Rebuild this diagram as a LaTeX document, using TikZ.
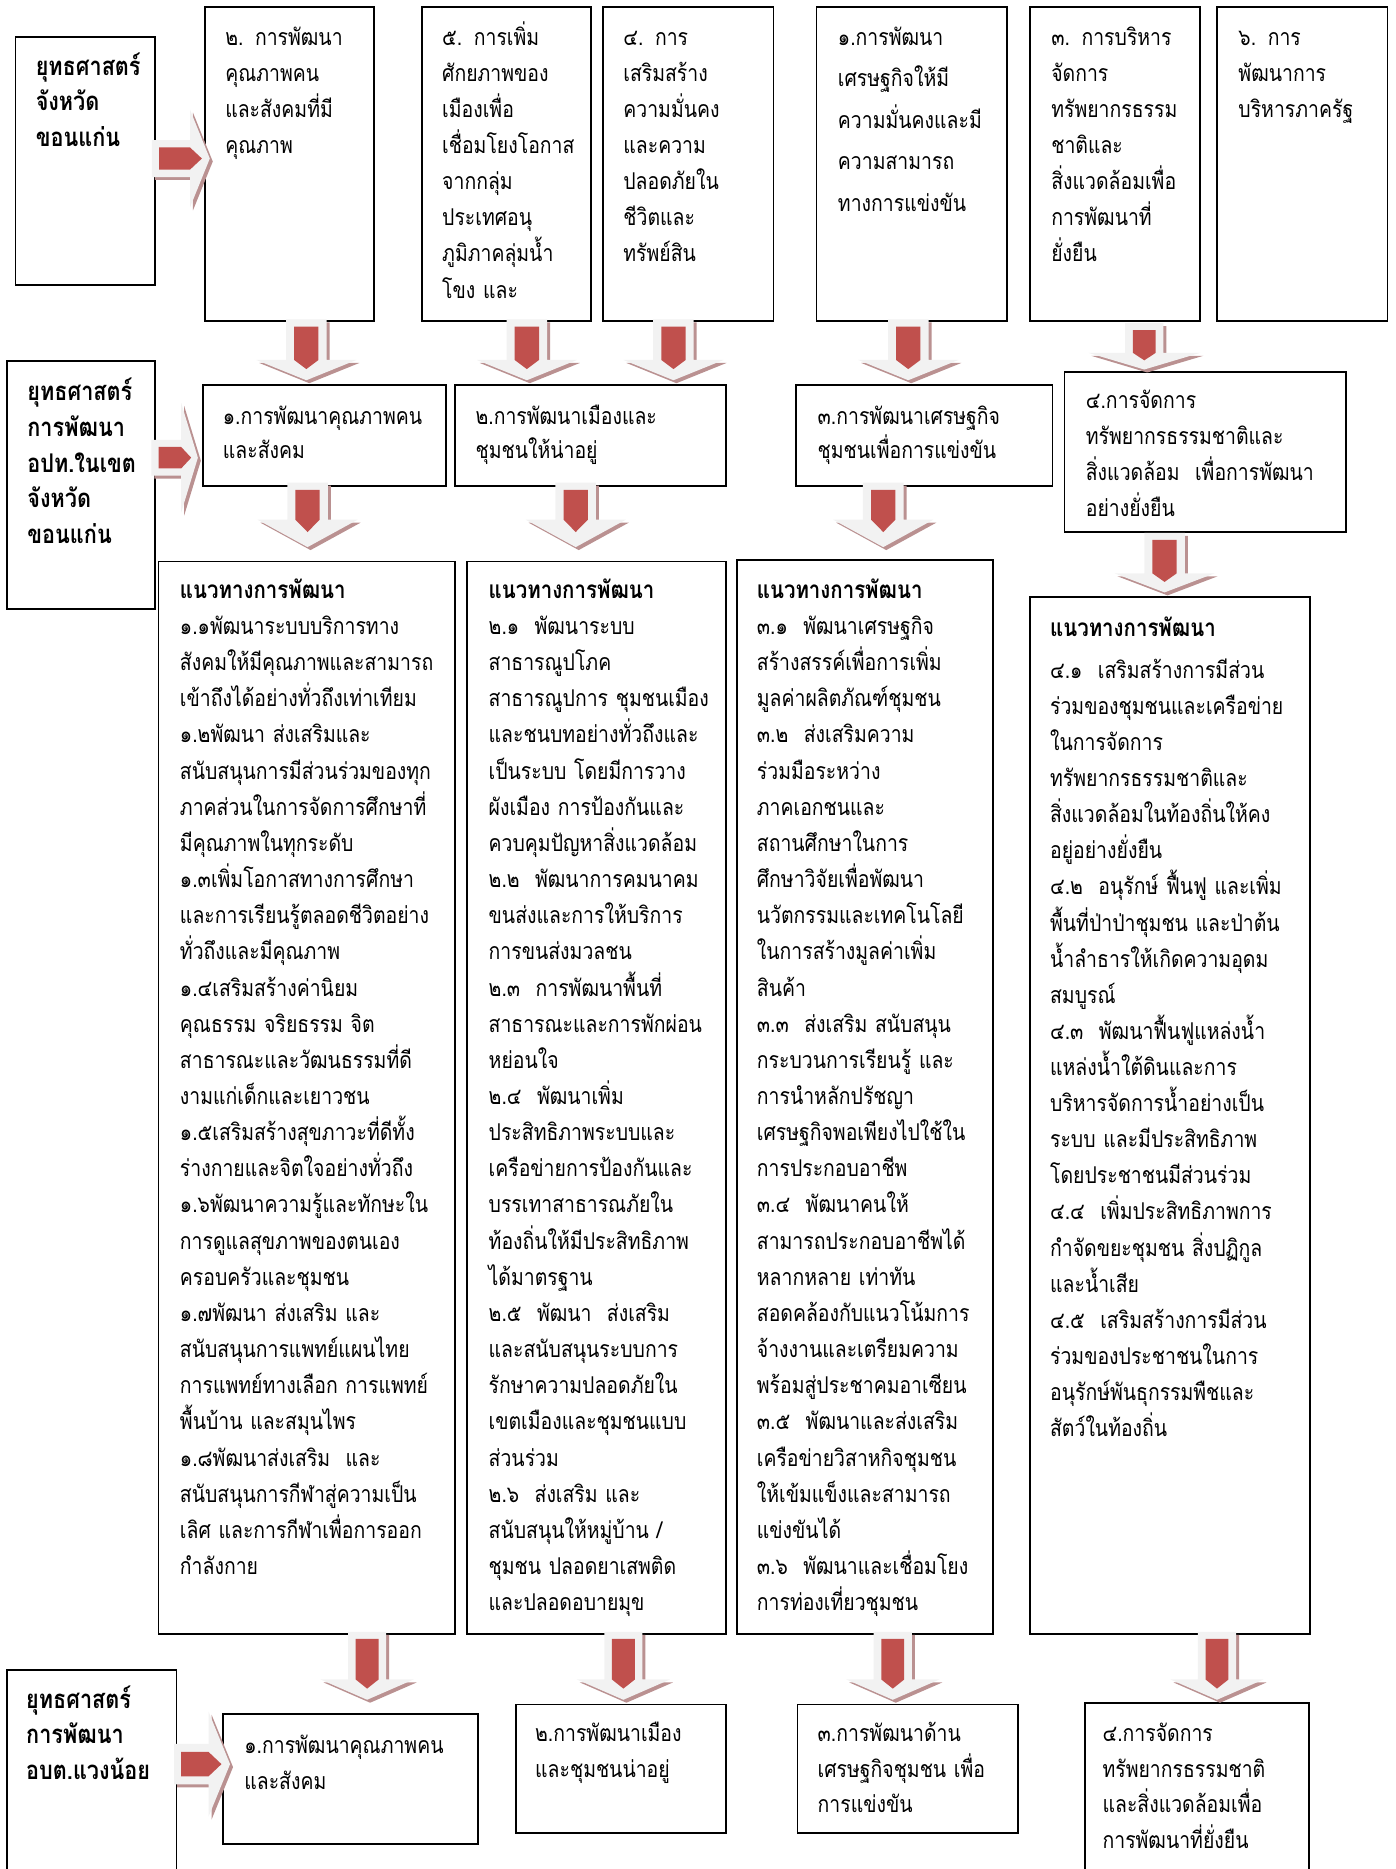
\documentclass[tikz,border=0pt]{standalone}
\usepackage{fontspec}
\newfontfamily\thaifont[Script=Thai,FakeStretch=0.84]{Loma}
\definecolor{arred}{RGB}{192,80,77}
\definecolor{argray}{RGB}{242,242,242}
\definecolor{arshad}{RGB}{186,145,145}
\newcommand\fsz{19.4pt}
\newcommand\lbf{\fontsize{21.6pt}{30pt}\selectfont\bfseries}
\newcommand\ttl[1]{{\fontsize{20.4pt}{30.33pt}\selectfont\bfseries #1}}
% down arrow: cx, top, headstart, tip, shafthalf, headhalf
\newcommand\darr[6]{%
  \fill[arshad,shift={(2.5,2.5)}] ({#1-#5},#2) -- ({#1+#5},#2) -- ({#1+#5},#3) -- ({#1+#6},#3) -- (#1,#4) -- ({#1-#6},#3) -- ({#1-#5},#3) -- cycle;
  \fill[argray] ({#1-#5},#2) -- ({#1+#5},#2) -- ({#1+#5},#3) -- ({#1+#6},#3) -- (#1,#4) -- ({#1-#6},#3) -- ({#1-#5},#3) -- cycle;
  \fill[arred] ({#1-0.6*#5},{#2+6}) -- ({#1+0.6*#5},{#2+6}) -- ({#1+0.6*#5},#3) -- (#1,{#3+0.45*(#4-#3)}) -- ({#1-0.6*#5},#3) -- cycle;
}
% right arrow: cy, left, headstart, tip, shafthalf, headhalf
\newcommand\rarr[6]{%
  \fill[arshad,shift={(2.5,2.5)}] (#2,{#1-#5}) -- (#3,{#1-#5}) -- (#3,{#1-#6}) -- (#4,#1) -- (#3,{#1+#6}) -- (#3,{#1+#5}) -- (#2,{#1+#5}) -- cycle;
  \fill[argray] (#2,{#1-#5}) -- (#3,{#1-#5}) -- (#3,{#1-#6}) -- (#4,#1) -- (#3,{#1+#6}) -- (#3,{#1+#5}) -- (#2,{#1+#5}) -- cycle;
  \fill[arred] ({#2+6},{#1-0.6*#5}) -- (#3,{#1-0.6*#5}) -- ({#3+0.6*(#4-#3)},#1) -- (#3,{#1+0.6*#5}) -- ({#2+6},{#1+0.6*#5}) -- cycle;
}
% box: name, x1, y1, x2, y2
\newcommand\bx[5]{\node[boxst, minimum width={#4-#2}, minimum height={#5-#3}] (#1) at (#2,#3) {};}
\tikzset{
  boxst/.style={draw=black, line width=1.5pt, fill=white, anchor=north west, inner sep=0pt, outer sep=0pt},
  tx/.style={anchor=base west, align=left, text width=400pt, inner sep=0pt, outer sep=0pt,
     font={\thaifont\fontsize{\fsz}{#1}\selectfont\lineskiplimit=-100pt}},
  tx/.default=30.3pt,
}
\begin{document}
\begin{tikzpicture}[x=1pt,y=-1pt]
\useasboundingbox (0,0) rectangle (1171,1568);
\clip (0,0) rectangle (1171,1568);
% ---------- row 1
\bx{L1}{13}{31}{130}{239}
\bx{t2}{172}{6}{314}{269}
\bx{t5}{354}{6}{496}{269}
\bx{t4}{506}{6}{649}{269}
\bx{t1}{685}{6}{845}{269}
\bx{t3}{864}{6}{1007}{269}
\bx{t6}{1021}{6}{1164}{269}
\node[tx=30pt] (L1t) at (30,63) {\lbf ยุทธศาสตร์\\จังหวัด\\ขอนแก่น};
\node[tx] (t2t) at (189,38) {๒. การพัฒนา\\คุณภาพคน\\และสังคมที่มี\\คุณภาพ};
\node[tx] (t5t) at (371,38) {๕. การเพิ่ม\\ศักยภาพของ\\เมืองเพื่อ\\เชื่อมโยงโอกาส\\จากกลุ่ม\\ประเทศอนุ\\ภูมิภาคลุ่มน้ำ\\โขง และ};
\node[tx] (t4t) at (523,38) {๔. การ\\เสริมสร้าง\\ความมั่นคง\\และความ\\ปลอดภัยใน\\ชีวิตและ\\ทรัพย์สิน};
\node[tx=34.8pt] (t1t) at (703,38) {๑.การพัฒนา\\เศรษฐกิจให้มี\\ความมั่นคงและมี\\ความสามารถ\\ทางการแข่งขัน};
\node[tx] (t3t) at (882,38) {๓. การบริหาร\\จัดการ\\ทรัพยากรธรรม\\ชาติและ\\สิ่งแวดล้อมเพื่อ\\การพัฒนาที่\\ยั่งยืน};
\node[tx] (t6t) at (1039,38) {๖. การ\\พัฒนาการ\\บริหารภาครัฐ};
% ---------- row 2
\bx{L2}{6}{303}{130}{511}
\bx{m1}{170}{323}{374}{408}
\bx{m2}{382}{323}{609}{408}
\bx{m3}{668}{323}{883}{408}
\bx{m4}{893}{312}{1129}{446}
\node[tx=30pt] (L2t) at (23,336) {\lbf ยุทธศาสตร์\\การพัฒนา\\อปท.ในเขต\\จังหวัด\\ขอนแก่น};
\node[tx=29pt] (m1t) at (187,356) {๑.การพัฒนาคุณภาพคน\\และสังคม};
\node[tx=29pt] (m2t) at (399,356) {๒.การพัฒนาเมืองและ\\ชุมชนให้น่าอยู่};
\node[tx=29pt] (m3t) at (686,356) {๓.การพัฒนาเศรษฐกิจ\\ชุมชนเพื่อการแข่งขัน};
\node[tx=30pt] (m4t) at (911,343) {๔.การจัดการ\\ทรัพยากรธรรมชาติและ\\สิ่งแวดล้อม~~เพื่อการพัฒนา\\อย่างยั่งยืน};
% ---------- row 3
\bx{b1}{133}{471}{382}{1371}
\bx{b2}{392}{471}{609}{1371}
\bx{b3}{618}{470}{833}{1371}
\bx{b4}{864}{501}{1099}{1371}
\node[tx=30.33pt] (b1t) at (151,502) {\ttl{แนวทางการพัฒนา}\\
๑.๑พัฒนาระบบบริการทาง\\
สังคมให้มีคุณภาพและสามารถ\\
เข้าถึงได้อย่างทั่วถึงเท่าเทียม\\
๑.๒พัฒนา ส่งเสริมและ\\
สนับสนุนการมีส่วนร่วมของทุก\\
ภาคส่วนในการจัดการศึกษาที่\\
มีคุณภาพในทุกระดับ\\
๑.๓เพิ่มโอกาสทางการศึกษา\\
และการเรียนรู้ตลอดชีวิตอย่าง\\
ทั่วถึงและมีคุณภาพ\\
๑.๔เสริมสร้างค่านิยม\\
คุณธรรม จริยธรรม จิต\\
สาธารณะและวัฒนธรรมที่ดี\\
งามแก่เด็กและเยาวชน\\
๑.๕เสริมสร้างสุขภาวะที่ดีทั้ง\\
ร่างกายและจิตใจอย่างทั่วถึง\\
๑.๖พัฒนาความรู้และทักษะใน\\
การดูแลสุขภาพของตนเอง\\
ครอบครัวและชุมชน\\
๑.๗พัฒนา ส่งเสริม และ\\
สนับสนุนการแพทย์แผนไทย\\
การแพทย์ทางเลือก การแพทย์\\
พื้นบ้าน และสมุนไพร\\
๑.๘พัฒนาส่งเสริม~~และ\\
สนับสนุนการกีฬาสู่ความเป็น\\
เลิศ และการกีฬาเพื่อการออก\\
กำลังกาย};
\node[tx=30.33pt] (b2t) at (410,502) {\ttl{แนวทางการพัฒนา}\\
๒.๑~~พัฒนาระบบ\\
สาธารณูปโภค\\
สาธารณูปการ ชุมชนเมือง\\
และชนบทอย่างทั่วถึงและ\\
เป็นระบบ โดยมีการวาง\\
ผังเมือง การป้องกันและ\\
ควบคุมปัญหาสิ่งแวดล้อม\\
๒.๒~~พัฒนาการคมนาคม\\
ขนส่งและการให้บริการ\\
การขนส่งมวลชน\\
๒.๓~~การพัฒนาพื้นที่\\
สาธารณะและการพักผ่อน\\
หย่อนใจ\\
๒.๔~~พัฒนาเพิ่ม\\
ประสิทธิภาพระบบและ\\
เครือข่ายการป้องกันและ\\
บรรเทาสาธารณภัยใน\\
ท้องถิ่นให้มีประสิทธิภาพ\\
ได้มาตรฐาน\\
๒.๕~~พัฒนา~~ส่งเสริม\\
และสนับสนุนระบบการ\\
รักษาความปลอดภัยใน\\
เขตเมืองและชุมชนแบบ\\
ส่วนร่วม\\
๒.๖~~ส่งเสริม และ\\
สนับสนุนให้หมู่บ้าน /\\
ชุมชน ปลอดยาเสพติด\\
และปลอดอบายมุข};
\node[tx=30.33pt] (b3t) at (635,502) {\ttl{แนวทางการพัฒนา}\\
๓.๑~~พัฒนาเศรษฐกิจ\\
สร้างสรรค์เพื่อการเพิ่ม\\
มูลค่าผลิตภัณฑ์ชุมชน\\
๓.๒~~ส่งเสริมความ\\
ร่วมมือระหว่าง\\
ภาคเอกชนและ\\
สถานศึกษาในการ\\
ศึกษาวิจัยเพื่อพัฒนา\\
นวัตกรรมและเทคโนโลยี\\
ในการสร้างมูลค่าเพิ่ม\\
สินค้า\\
๓.๓~~ส่งเสริม สนับสนุน\\
กระบวนการเรียนรู้ และ\\
การนำหลักปรัชญา\\
เศรษฐกิจพอเพียงไปใช้ใน\\
การประกอบอาชีพ\\
๓.๔~~พัฒนาคนให้\\
สามารถประกอบอาชีพได้\\
หลากหลาย เท่าทัน\\
สอดคล้องกับแนวโน้มการ\\
จ้างงานและเตรียมความ\\
พร้อมสู่ประชาคมอาเซียน\\
๓.๕~~พัฒนาและส่งเสริม\\
เครือข่ายวิสาหกิจชุมชน\\
ให้เข้มแข็งและสามารถ\\
แข่งขันได้\\
๓.๖~~พัฒนาและเชื่อมโยง\\
การท่องเที่ยวชุมชน};
\node[tx=30.3pt] (b4t) at (881,534) {\ttl{แนวทางการพัฒนา}\\[4.7pt]
๔.๑~~เสริมสร้างการมีส่วน\\
ร่วมของชุมชนและเครือข่าย\\
ในการจัดการ\\
ทรัพยากรธรรมชาติและ\\
สิ่งแวดล้อมในท้องถิ่นให้คง\\
อยู่อย่างยั่งยืน\\
๔.๒~~อนุรักษ์ ฟื้นฟู และเพิ่ม\\
พื้นที่ป่าป่าชุมชน และป่าต้น\\
น้ำลำธารให้เกิดความอุดม\\
สมบูรณ์\\
๔.๓~~พัฒนาฟื้นฟูแหล่งน้ำ\\
แหล่งน้ำใต้ดินและการ\\
บริหารจัดการน้ำอย่างเป็น\\
ระบบ และมีประสิทธิภาพ\\
โดยประชาชนมีส่วนร่วม\\
๔.๔~~เพิ่มประสิทธิภาพการ\\
กำจัดขยะชุมชน สิ่งปฏิกูล\\
และน้ำเสีย\\
๔.๕~~เสริมสร้างการมีส่วน\\
ร่วมของประชาชนในการ\\
อนุรักษ์พันธุกรรมพืชและ\\
สัตว์ในท้องถิ่น};
% ---------- row 4
\bx{L3}{6}{1401}{148}{1585}
\bx{n1}{187}{1438}{401}{1547}
\bx{n2}{433}{1430}{609}{1538}
\bx{n3}{669}{1430}{854}{1538}
\bx{n4}{910}{1429}{1098}{1585}
\node[tx=30pt] (L3t) at (22,1433) {\lbf ยุทธศาสตร์\\การพัฒนา\\อบต.แวงน้อย};
\node[tx=30pt] (n1t) at (205,1471) {๑.การพัฒนาคุณภาพคน\\และสังคม};
\node[tx=30pt] (n2t) at (449,1461) {๒.การพัฒนาเมือง\\และชุมชนน่าอยู่};
\node[tx=30pt] (n3t) at (686,1461) {๓.การพัฒนาด้าน\\เศรษฐกิจชุมชน เพื่อ\\การแข่งขัน};
\node[tx=30pt] (n4t) at (925,1461) {๔.การจัดการ\\ทรัพยากรธรรมชาติ\\และสิ่งแวดล้อมเพื่อ\\การพัฒนาที่ยั่งยืน};
% ---------- arrows
\rarr{133}{127.5}{159.4}{176}{15.5}{41}
\rarr{384}{127}{152}{166}{15}{46}
\rarr{1480}{146}{175}{193}{17}{44}
\darr{257}{268}{302}{319}{17}{42}
\darr{442}{268}{302}{319}{17}{42}
\darr{565}{268}{302}{319}{17}{42}
\darr{762}{268}{302}{319}{17}{42}
\darr{960}{271}{296}{310}{16}{47}
\darr{258}{405}{436}{459}{17}{42}
\darr{483}{405}{436}{459}{17}{42}
\darr{741}{405}{436}{459}{17}{42}
\darr{977}{447}{481}{497}{17}{42}
\darr{308}{1369}{1409}{1426}{16}{39}
\darr{523}{1369}{1409}{1426}{16}{39}
\darr{749}{1369}{1409}{1426}{16}{39}
\darr{1021}{1369}{1409}{1426}{16}{39}
\end{tikzpicture}
\end{document}
